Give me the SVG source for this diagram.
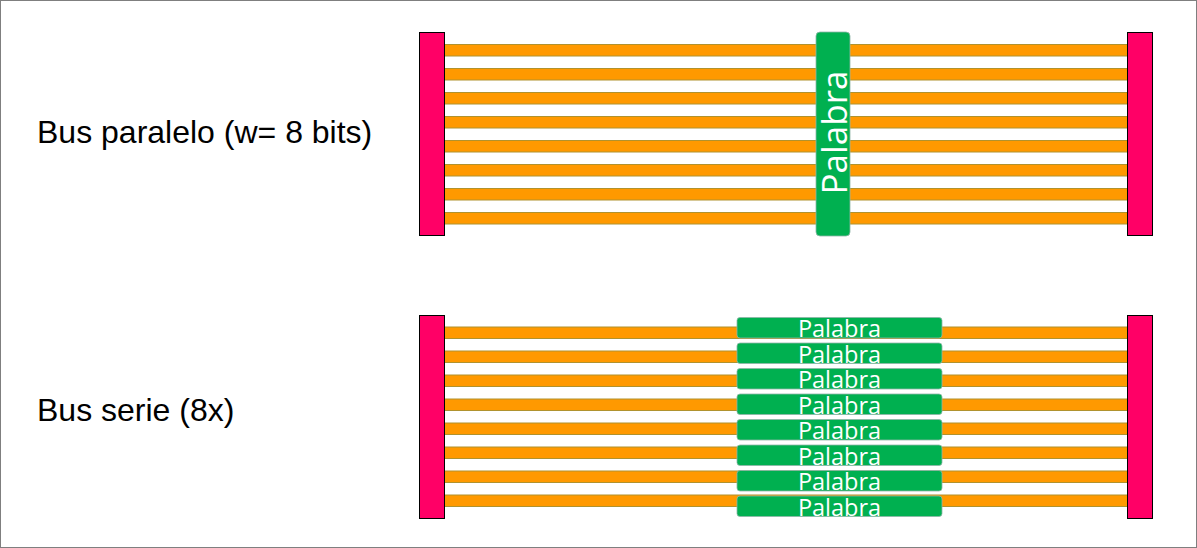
<svg xmlns="http://www.w3.org/2000/svg" width="1197" height="548" viewBox="0 0 1197 548">
<style>
.bg{fill:#fff;stroke:#7f7f7f;stroke-width:1}
.bar{fill:#FF0066;stroke:#000;stroke-width:1}
.wire{fill:#FF9900;stroke:#B0922E;stroke-width:1}
.word{fill:#00B050;stroke:#8FB5A8;stroke-width:0.8}
.wt{fill:#fff;font-family:"Open Sans","Noto Sans",sans-serif;text-anchor:middle}
.ws{font-size:23.5px}
.lbl{fill:#000;font-family:"Liberation Sans",Arial,sans-serif;font-size:32px}
</style>
<rect class="bg" x="0.5" y="0.5" width="1196" height="547"/>
<g id="label-paralelo"><text class="lbl" x="37" y="143">Bus paralelo (w= 8 bits)</text></g>
<g id="label-serie"><text class="lbl" x="37" y="421">Bus serie (8x)</text></g>
<g id="connectors">
<g id="wires-paralelo">
<rect class="wire" x="444.5" y="44.5" width="683" height="11.5"/>
<rect class="wire" x="444.5" y="68.5" width="683" height="11.5"/>
<rect class="wire" x="444.5" y="92.5" width="683" height="11.5"/>
<rect class="wire" x="444.5" y="116.5" width="683" height="11.5"/>
<rect class="wire" x="444.5" y="140.5" width="683" height="11.5"/>
<rect class="wire" x="444.5" y="164.5" width="683" height="11.5"/>
<rect class="wire" x="444.5" y="188.5" width="683" height="11.5"/>
<rect class="wire" x="444.5" y="212.5" width="683" height="11.5"/>
</g>
<g id="wires-serie">
<rect class="wire" x="444.5" y="327" width="683" height="11.5"/>
<rect class="wire" x="444.5" y="351" width="683" height="11.5"/>
<rect class="wire" x="444.5" y="375" width="683" height="11.5"/>
<rect class="wire" x="444.5" y="399" width="683" height="11.5"/>
<rect class="wire" x="444.5" y="423" width="683" height="11.5"/>
<rect class="wire" x="444.5" y="447" width="683" height="11.5"/>
<rect class="wire" x="444.5" y="471" width="683" height="11.5"/>
<rect class="wire" x="444.5" y="495" width="683" height="11.5"/>
</g>
</g>
<g id="src-paralelo"><rect class="bar" x="419.5" y="32.5" width="25" height="203"/></g>
<g id="dst-paralelo"><rect class="bar" x="1127.5" y="32.5" width="25" height="203"/></g>
<g id="src-serie"><rect class="bar" x="419.5" y="315.5" width="25" height="203"/></g>
<g id="dst-serie"><rect class="bar" x="1127.5" y="315.5" width="25" height="203"/></g>
<g id="palabra-paralelo">
<rect class="word" x="816" y="32" width="34" height="204" rx="4"/>
<text class="wt" font-size="35" transform="translate(846.5,132.5) rotate(-90)">Palabra</text>
</g>
<g id="palabras-serie">
<g id="p1"><rect class="word" x="737" y="317.5" width="205" height="20.5" rx="3"/><text class="wt ws" x="839.5" y="337">Palabra</text></g>
<g id="p2"><rect class="word" x="737" y="343" width="205" height="20.5" rx="3"/><text class="wt ws" x="839.5" y="362.5">Palabra</text></g>
<g id="p3"><rect class="word" x="737" y="368.5" width="205" height="20.5" rx="3"/><text class="wt ws" x="839.5" y="388">Palabra</text></g>
<g id="p4"><rect class="word" x="737" y="394" width="205" height="20.5" rx="3"/><text class="wt ws" x="839.5" y="413.5">Palabra</text></g>
<g id="p5"><rect class="word" x="737" y="419.5" width="205" height="20.5" rx="3"/><text class="wt ws" x="839.5" y="439">Palabra</text></g>
<g id="p6"><rect class="word" x="737" y="445" width="205" height="20.5" rx="3"/><text class="wt ws" x="839.5" y="464.5">Palabra</text></g>
<g id="p7"><rect class="word" x="737" y="470.5" width="205" height="20.5" rx="3"/><text class="wt ws" x="839.5" y="490">Palabra</text></g>
<g id="p8"><rect class="word" x="737" y="496" width="205" height="20.5" rx="3"/><text class="wt ws" x="839.5" y="515.5">Palabra</text></g>
</g>
</svg>
